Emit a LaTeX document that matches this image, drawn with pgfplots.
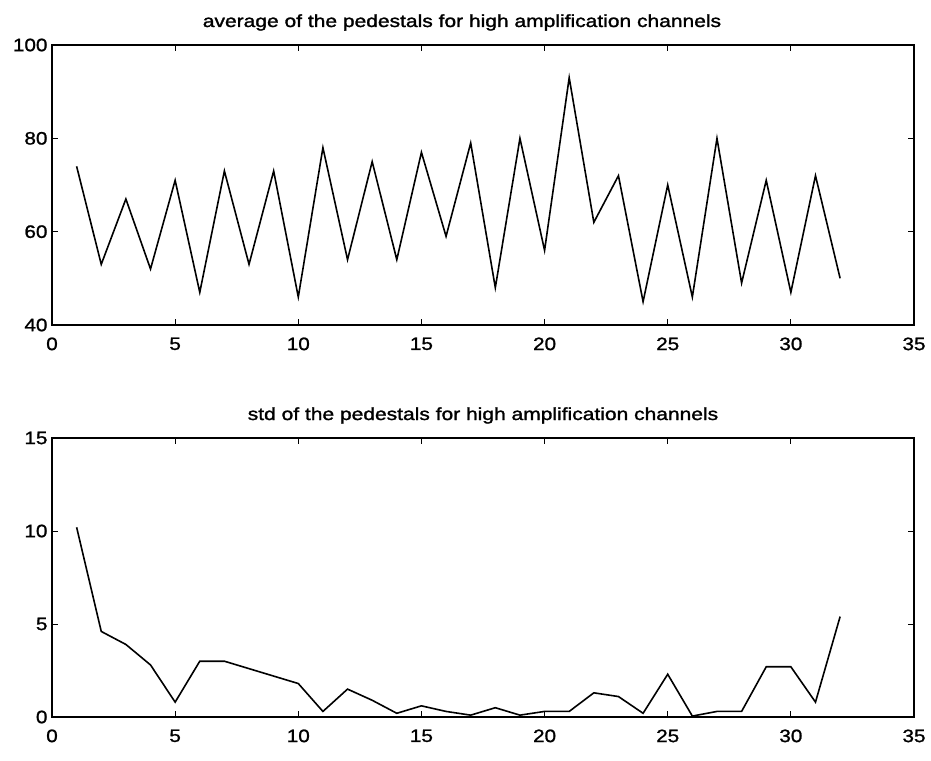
\documentclass[border=0pt]{standalone}
\usepackage{pgfplots}
\pgfplotsset{compat=1.18}
\usepackage{fontspec}
\setmainfont{Liberation Sans}
\newfontfamily\ticks[FakeStretch=1.15,FakeBold=1.2]{Liberation Sans}
\newfontfamily\titlef[FakeStretch=1.2,FakeBold=1.5]{Liberation Sans}
\pgfplotsset{
  myaxis/.style={
    scale only axis, width=862pt,
    xmin=0, xmax=35, xtick={0,5,...,35},
    tick align=inside, major tick length=6pt,
    axis line style={line width=1.8pt},
    every tick/.style={black, line width=1pt},
    tick label style={font=\ticks\fontsize{18}{18}\selectfont},
    /pgf/number format/assume math mode=true,
    xticklabel style={yshift=-9pt},
    yticklabel style={xshift=-1pt},
  }
}
\begin{document}
\begin{tikzpicture}
\path (0pt,0pt) rectangle (931pt,-760pt);
\begin{axis}[myaxis, at={(52pt,-325pt)}, anchor=south west, height=280pt,
  ymin=40, ymax=100, ytick={40,60,80,100}]
\addplot[black, line width=1.6pt] coordinates {
(1,74) (2,53) (3,67) (4,52) (5,71) (6,47) (7,73) (8,53) (9,73) (10,46)
(11,78) (12,54) (13,75) (14,54) (15,77) (16,59) (17,79) (18,48) (19,80) (20,56)
(21,93) (22,62) (23,72) (24,45) (25,70) (26,46) (27,80) (28,49) (29,71) (30,47)
(31,72) (32,50)};
\end{axis}
\begin{axis}[myaxis, at={(52pt,-717pt)}, anchor=south west, height=279pt,
  ymin=0, ymax=15, ytick={0,5,10,15}]
\addplot[black, line width=1.6pt] coordinates {
(1,10.2) (2,4.6) (3,3.9) (4,2.8) (5,0.8) (6,3.0) (7,3.0) (8,2.6) (9,2.2) (10,1.8)
(11,0.3) (12,1.5) (13,0.9) (14,0.2) (15,0.6) (16,0.3) (17,0.1) (18,0.5) (19,0.1) (20,0.3)
(21,0.3) (22,1.3) (23,1.1) (24,0.2) (25,2.3) (26,0.05) (27,0.3) (28,0.3) (29,2.7) (30,2.7)
(31,0.8) (32,5.4)};
\end{axis}
\node[anchor=base, inner sep=0pt, font=\titlef\fontsize{17.5}{17.5}\selectfont] at (462pt,-27pt) {average of the pedestals for high amplification channels};
\node[anchor=base, inner sep=0pt, font=\titlef\fontsize{17.5}{17.5}\selectfont] at (483pt,-420pt) {std of the pedestals for high amplification channels};
\end{tikzpicture}
\end{document}
